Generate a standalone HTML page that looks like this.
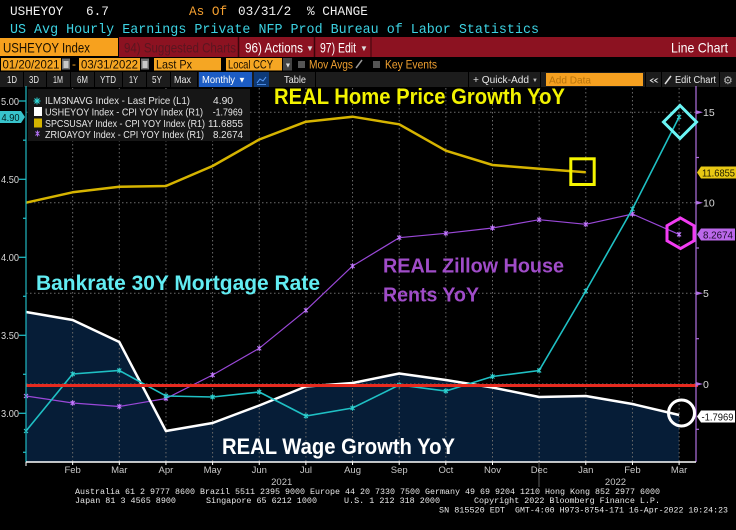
<!DOCTYPE html>
<html><head><meta charset="utf-8"><style>
html,body{margin:0;padding:0;background:#000;width:736px;height:530px;overflow:hidden}
svg{display:block}
.m{font-family:"Liberation Mono",monospace}
.s{font-family:"Liberation Sans",sans-serif}
</style></head><body>
<svg width="736" height="530" viewBox="0 0 736 530" xmlns="http://www.w3.org/2000/svg">
<rect x="0" y="0" width="736" height="530" fill="#000"/>
<!-- Row 1 -->
<g class="m" font-size="12.7" fill="#f0f0f0">
<text x="10" y="15">USHEYOY</text>
<text x="86" y="15">6.7</text>
<text x="189" y="15" fill="#f5a030">As Of</text>
<text x="238" y="15">03/31/2</text>
<text x="307" y="15">% CHANGE</text>
</g>
<!-- Row 2 -->
<text class="m" x="10" y="33" font-size="13.36" fill="#3dd3e3" textLength="529" lengthAdjust="spacingAndGlyphs">US Avg Hourly Earnings Private NFP Prod Bureau of Labor Statistics</text>
<!-- Row 3 -->
<rect x="0" y="38" width="118" height="18" fill="#f7a11e"/>
<rect x="119" y="37" width="617" height="20" fill="#8c1221"/>
<line x1="238.5" y1="37" x2="238.5" y2="57" stroke="#3a050b" stroke-width="1.5"/>
<line x1="314.5" y1="37" x2="314.5" y2="57" stroke="#3a050b" stroke-width="1.5"/>
<line x1="371" y1="37" x2="371" y2="57" stroke="#3a050b" stroke-width="1"/>
<g class="s">
<text x="3" y="52.5" font-size="14" fill="#1a1000" textLength="87" lengthAdjust="spacingAndGlyphs">USHEYOY Index</text>
<text x="124" y="52.5" font-size="14" fill="#5a1620" textLength="112" lengthAdjust="spacingAndGlyphs">94) Suggested Charts</text>
<text x="245" y="52.5" font-size="14" fill="#ffffff" textLength="58" lengthAdjust="spacingAndGlyphs">96) Actions</text>
<text x="306" y="51" font-size="8" fill="#dddddd">▼</text>
<text x="320" y="52.5" font-size="14" fill="#ffffff" textLength="36" lengthAdjust="spacingAndGlyphs">97) Edit</text>
<text x="360" y="51" font-size="8" fill="#dddddd">▼</text>
<text x="671" y="52.5" font-size="14" fill="#ffffff" textLength="57" lengthAdjust="spacingAndGlyphs">Line Chart</text>
</g>
<!-- Row 4 -->
<rect x="1" y="58" width="60" height="12.5" fill="#f5a623"/>
<rect x="62" y="58.5" width="8" height="11" fill="#6e6e6e"/>
<rect x="63.5" y="61" width="5" height="7" fill="#c8c8c8"/>
<rect x="79" y="58" width="61" height="12.5" fill="#f5a623"/>
<rect x="141" y="58.5" width="8" height="11" fill="#6e6e6e"/>
<rect x="142.5" y="61" width="5" height="7" fill="#c8c8c8"/>
<rect x="154" y="58" width="67" height="12.5" fill="#f5a623"/>
<rect x="226" y="58" width="56" height="12.5" fill="#f5a623"/>
<rect x="283" y="58" width="9" height="12.5" fill="#444"/>
<text x="284.5" y="67.5" font-size="7" fill="#ddd" class="s">▼</text>
<rect x="298" y="61" width="7" height="7" fill="#555"/>
<line x1="356" y1="68" x2="362" y2="60" stroke="#999" stroke-width="1.5"/>
<rect x="373" y="61" width="7" height="7" fill="#555"/>
<g class="s" font-size="12" fill="#1a0f00">
<text x="2.5" y="68.5" textLength="57" lengthAdjust="spacingAndGlyphs">01/20/2021</text>
<text x="72" y="68" fill="#f5a623">-</text>
<text x="81" y="68.5" textLength="57" lengthAdjust="spacingAndGlyphs">03/31/2022</text>
<text x="156" y="68.5" textLength="36" lengthAdjust="spacingAndGlyphs">Last Px</text>
<text x="228" y="68.5" textLength="45" lengthAdjust="spacingAndGlyphs">Local CCY</text>
<text x="309" y="68.5" fill="#f0a030" textLength="44" lengthAdjust="spacingAndGlyphs">Mov Avgs</text>
<text x="385" y="68.5" fill="#f0a030" textLength="52" lengthAdjust="spacingAndGlyphs">Key Events</text>
</g>
<!-- Row 5 -->
<rect x="0" y="72" width="736" height="15" fill="#1c1c1c"/>
<g fill="#000">
<rect x="23" y="72" width="1" height="15"/><rect x="46" y="72" width="1" height="15"/>
<rect x="70" y="72" width="1" height="15"/><rect x="94" y="72" width="1" height="15"/>
<rect x="122" y="72" width="1" height="15"/><rect x="146" y="72" width="1" height="15"/>
<rect x="170" y="72" width="1" height="15"/><rect x="197" y="72" width="1" height="15"/>
<rect x="315" y="72" width="1" height="15"/><rect x="468" y="72" width="1" height="15"/>
<rect x="540" y="72" width="1" height="15"/><rect x="645" y="72" width="1" height="15"/>
<rect x="661" y="72" width="1" height="15"/><rect x="719" y="72" width="1" height="15"/>
</g>
<rect x="199" y="72" width="53" height="15" fill="#1c5cc4"/>
<rect x="254" y="72" width="15" height="15" fill="#0e3a78"/>
<polyline points="257,83 260,79 263,81 266,77" fill="none" stroke="#5aa0ff" stroke-width="1"/>
<line x1="257" y1="84.5" x2="266" y2="84.5" stroke="#5aa0ff" stroke-width="0.8"/>
<rect x="546" y="73" width="97" height="13" fill="#f5a020"/>
<g class="s" font-size="10.5" fill="#e8e8e8">
<text x="7" y="83" textLength="10" lengthAdjust="spacingAndGlyphs">1D</text>
<text x="29" y="83" textLength="10" lengthAdjust="spacingAndGlyphs">3D</text>
<text x="53" y="83" textLength="10" lengthAdjust="spacingAndGlyphs">1M</text>
<text x="77" y="83" textLength="11" lengthAdjust="spacingAndGlyphs">6M</text>
<text x="100" y="83" textLength="16" lengthAdjust="spacingAndGlyphs">YTD</text>
<text x="129" y="83" textLength="9" lengthAdjust="spacingAndGlyphs">1Y</text>
<text x="152" y="83" textLength="10" lengthAdjust="spacingAndGlyphs">5Y</text>
<text x="174" y="83" textLength="17" lengthAdjust="spacingAndGlyphs">Max</text>
<text x="202" y="83" fill="#fff" textLength="33" lengthAdjust="spacingAndGlyphs">Monthly</text>
<text x="238" y="82.5" font-size="8" fill="#fff">▼</text>
<text x="284" y="83" textLength="22" lengthAdjust="spacingAndGlyphs">Table</text>
<text x="473" y="83" textLength="56" lengthAdjust="spacingAndGlyphs">+ Quick-Add</text>
<text x="532" y="82" font-size="6" fill="#bbb">▼</text>
<text x="549" y="83.5" fill="#b8740c" textLength="42" lengthAdjust="spacingAndGlyphs">Add Data</text>
<text x="649" y="83" textLength="10" lengthAdjust="spacingAndGlyphs">«</text>
<text x="675" y="83" textLength="41" lengthAdjust="spacingAndGlyphs">Edit Chart</text>
</g>
<line x1="665" y1="84" x2="671" y2="76" stroke="#ddd" stroke-width="1.5"/>
<text x="723" y="84" font-size="11" fill="#bbb" font-family="DejaVu Sans, sans-serif">⚙</text>

<!-- Chart: navy fill under white series -->
<polygon points="26,312 72.65,320 119.3,342 165.95,431 212.6,423 259.25,405.5 305.9,386.5 352.55,383 399.2,373.5 445.85,380 492.5,387.5 539.15,397 585.8,396 632.45,404 679.1,415 679.1,462 26,462" fill="#061d37"/>
<!-- gridlines -->
<g stroke="#6a6a6a" stroke-width="1" stroke-dasharray="1.5 2.5">
<line x1="72.65" y1="88" x2="72.65" y2="462"/><line x1="119.3" y1="88" x2="119.3" y2="462"/>
<line x1="165.95" y1="88" x2="165.95" y2="462"/><line x1="212.6" y1="88" x2="212.6" y2="462"/>
<line x1="259.25" y1="88" x2="259.25" y2="462"/><line x1="305.9" y1="88" x2="305.9" y2="462"/>
<line x1="352.55" y1="88" x2="352.55" y2="462"/><line x1="399.2" y1="88" x2="399.2" y2="462"/>
<line x1="445.85" y1="88" x2="445.85" y2="462"/><line x1="492.5" y1="88" x2="492.5" y2="462"/>
<line x1="539.15" y1="88" x2="539.15" y2="462"/><line x1="585.8" y1="88" x2="585.8" y2="462"/>
<line x1="632.45" y1="88" x2="632.45" y2="462"/><line x1="679.1" y1="88" x2="679.1" y2="462"/>
<line x1="26" y1="112.3" x2="696" y2="112.3"/><line x1="26" y1="202.7" x2="696" y2="202.7"/>
<line x1="26" y1="293.3" x2="696" y2="293.3"/><line x1="26" y1="384" x2="696" y2="384"/>
</g>

<!-- Legend -->
<rect x="28" y="89" width="222" height="52" fill="#161616"/>
<g class="s" font-size="10.5" fill="#e6e6e6">
<text x="45" y="104.2" textLength="145" lengthAdjust="spacingAndGlyphs">ILM3NAVG Index - Last Price (L1)</text>
<text x="213" y="104.2" textLength="20" lengthAdjust="spacingAndGlyphs">4.90</text>
<text x="45" y="115.5" textLength="158" lengthAdjust="spacingAndGlyphs">USHEYOY Index - CPI YOY Index (R1)</text>
<text x="212.7" y="115.5" textLength="30" lengthAdjust="spacingAndGlyphs">-1.7969</text>
<text x="45" y="126.8" textLength="160" lengthAdjust="spacingAndGlyphs">SPCSUSAY Index - CPI YOY Index (R1)</text>
<text x="208" y="126.8" textLength="35" lengthAdjust="spacingAndGlyphs">11.6855</text>
<text x="45" y="138.1" textLength="159" lengthAdjust="spacingAndGlyphs">ZRIOAYOY Index - CPI YOY Index (R1)</text>
<text x="213" y="138.1" textLength="30" lengthAdjust="spacingAndGlyphs">8.2674</text>
</g>
<path d="M34.5 98.5l5 5m0-5l-5 5m2.5-6v7m-3.5-3.5h7" stroke="#30d8d8" stroke-width="1"/>
<rect x="34" y="107" width="8" height="9" fill="#ffffff"/>
<rect x="34" y="118.5" width="8" height="9" fill="#d4b400"/>
<path d="M35.5 131.5l4 4m0-4l-4 4m2-5v6" stroke="#b070f0" stroke-width="1"/>

<!-- Annotations -->
<g class="s" font-weight="bold">
<text x="274" y="104" font-size="22" fill="#f2f200" textLength="291" lengthAdjust="spacingAndGlyphs">REAL Home Price Growth YoY</text>
<text x="36" y="290" font-size="21" fill="#62ecf2" textLength="284" lengthAdjust="spacingAndGlyphs">Bankrate 30Y Mortgage Rate</text>
<text x="383" y="272.7" font-size="20" fill="#a04cc8" textLength="181" lengthAdjust="spacingAndGlyphs">REAL Zillow House</text>
<text x="383" y="301.7" font-size="20" fill="#a04cc8" textLength="96" lengthAdjust="spacingAndGlyphs">Rents YoY</text>
<text x="222" y="454" font-size="22" fill="#ffffff" textLength="233" lengthAdjust="spacingAndGlyphs">REAL Wage Growth YoY</text>
</g>

<!-- Series -->
<polyline points="26,202.7 72.65,192.3 119.3,186.7 165.95,186 212.6,166 259.25,139.5 305.9,121.7 352.55,116.7 399.2,124.3 445.85,150.7 492.5,165 539.15,168.7 585.8,172.3" fill="none" stroke="#d6b400" stroke-width="2.5" stroke-linejoin="round"/>
<polyline points="26,396 72.65,403 119.3,406.5 165.95,398.5 212.6,375 259.25,348.3 305.9,310.3 352.55,266 399.2,237.7 445.85,233.3 492.5,228 539.15,219.7 585.8,224.3 632.45,214 679.1,234.4" fill="none" stroke="#9a48d8" stroke-width="1.2"/>
<path d="M24 394l4 4m0-4l-4 4m2-4.8v5.6M70.65 401l4 4m0-4l-4 4m2-4.8v5.6M117.3 404.5l4 4m0-4l-4 4m2-4.8v5.6M163.95 396.5l4 4m0-4l-4 4m2-4.8v5.6M210.6 373l4 4m0-4l-4 4m2-4.8v5.6M257.25 346.3l4 4m0-4l-4 4m2-4.8v5.6M303.9 308.3l4 4m0-4l-4 4m2-4.8v5.6M350.55 264l4 4m0-4l-4 4m2-4.8v5.6M397.2 235.7l4 4m0-4l-4 4m2-4.8v5.6M443.85 231.3l4 4m0-4l-4 4m2-4.8v5.6M490.5 226l4 4m0-4l-4 4m2-4.8v5.6M537.15 217.7l4 4m0-4l-4 4m2-4.8v5.6M583.8 222.3l4 4m0-4l-4 4m2-4.8v5.6M630.45 212l4 4m0-4l-4 4m2-4.8v5.6M677.1 232.4l4 4m0-4l-4 4m2-4.8v5.6" stroke="#c47cff" stroke-width="1" fill="none"/>
<polyline points="26,312 72.65,320 119.3,342 165.95,431 212.6,423 259.25,405.5 305.9,386.5 352.55,383 399.2,373.5 445.85,380 492.5,387.5 539.15,397 585.8,396 632.45,404 679.1,415" fill="none" stroke="#ffffff" stroke-width="2.5" stroke-linejoin="round"/>
<polyline points="26,431 72.65,374 119.3,370.5 165.95,396 212.6,397 259.25,392 305.9,416 352.55,408 399.2,385 445.85,391 492.5,376.5 539.15,370.5 585.8,291 632.45,209 679.1,117" fill="none" stroke="#1fc0c4" stroke-width="1.6"/>
<path d="M24 429l4 4m0-4l-4 4m2-4.8v5.6M70.65 372l4 4m0-4l-4 4m2-4.8v5.6M117.3 368.5l4 4m0-4l-4 4m2-4.8v5.6M163.95 394l4 4m0-4l-4 4m2-4.8v5.6M210.6 395l4 4m0-4l-4 4m2-4.8v5.6M257.25 390l4 4m0-4l-4 4m2-4.8v5.6M303.9 414l4 4m0-4l-4 4m2-4.8v5.6M350.55 406l4 4m0-4l-4 4m2-4.8v5.6M397.2 383l4 4m0-4l-4 4m2-4.8v5.6M443.85 389l4 4m0-4l-4 4m2-4.8v5.6M490.5 374.5l4 4m0-4l-4 4m2-4.8v5.6M537.15 368.5l4 4m0-4l-4 4m2-4.8v5.6M583.8 289l4 4m0-4l-4 4m2-4.8v5.6M630.45 207l4 4m0-4l-4 4m2-4.8v5.6M677.1 115l4 4m0-4l-4 4m2-4.8v5.6" stroke="#30d0d0" stroke-width="1" fill="none"/>
<!-- red zero line -->
<line x1="26" y1="385.5" x2="698" y2="385.5" stroke="#e62a1f" stroke-width="3"/>

<!-- Axes -->
<line x1="26" y1="86" x2="26" y2="462" stroke="#20b8c0" stroke-width="1.2"/>
<line x1="696" y1="86" x2="696" y2="462" stroke="#b070e0" stroke-width="1.2"/>
<line x1="26" y1="462" x2="696" y2="462" stroke="#ffffff" stroke-width="1.5"/>
<g stroke="#20b8c0" stroke-width="1.3">
<line x1="19" y1="101" x2="26" y2="101"/><line x1="19" y1="179.3" x2="26" y2="179.3"/>
<line x1="19" y1="257.3" x2="26" y2="257.3"/><line x1="19" y1="335.3" x2="26" y2="335.3"/>
<line x1="19" y1="413.3" x2="26" y2="413.3"/>
<line x1="23" y1="140.2" x2="26" y2="140.2"/><line x1="23" y1="218.3" x2="26" y2="218.3"/>
<line x1="23" y1="296.3" x2="26" y2="296.3"/><line x1="23" y1="374.3" x2="26" y2="374.3"/>
<line x1="23" y1="452.3" x2="26" y2="452.3"/>
</g>
<g class="s" font-size="10.5" fill="#d8d8d8">
<text x="1" y="104.8" textLength="18" lengthAdjust="spacingAndGlyphs">5.00</text>
<text x="1" y="183" textLength="18" lengthAdjust="spacingAndGlyphs">4.50</text>
<text x="1" y="261" textLength="18" lengthAdjust="spacingAndGlyphs">4.00</text>
<text x="1" y="339" textLength="18" lengthAdjust="spacingAndGlyphs">3.50</text>
<text x="1" y="417" textLength="18" lengthAdjust="spacingAndGlyphs">3.00</text>
</g>
<polygon points="0,111 21,111 25,117 21,123 0,123" fill="#38c4cc"/>
<text class="s" x="1.5" y="121" font-size="10" fill="#002020" textLength="18" lengthAdjust="spacingAndGlyphs">4.90</text>

<!-- right ticks -->
<g fill="#b070e0">
<polygon points="696,110.3 703,112.3 696,114.3"/><polygon points="696,200.7 703,202.7 696,204.7"/>
<polygon points="696,291.3 703,293.3 696,295.3"/><polygon points="696,382 703,384 696,386"/>
</g>
<g stroke="#b070e0" stroke-width="1.2">
<line x1="696" y1="157.5" x2="699" y2="157.5"/><line x1="696" y1="248" x2="699" y2="248"/>
<line x1="696" y1="338.7" x2="699" y2="338.7"/><line x1="696" y1="429.3" x2="699" y2="429.3"/>
</g>
<g class="s" font-size="10.5" fill="#d8d8d8">
<text x="703" y="116">15</text><text x="703" y="206.5">10</text>
<text x="703" y="297">5</text><text x="703" y="388">0</text>
</g>
<polygon points="697,172.5 701,166.5 736,166.5 736,178.5 701,178.5" fill="#e8c814"/>
<text class="s" x="702" y="176.5" font-size="10.5" fill="#1e1a00" textLength="33" lengthAdjust="spacingAndGlyphs">11.6855</text>
<polygon points="697,234.4 701,228.5 735,228.5 735,240.5 701,240.5" fill="#bb68ea"/>
<text class="s" x="703" y="238.5" font-size="10.5" fill="#1a0a2a" textLength="30" lengthAdjust="spacingAndGlyphs">8.2674</text>
<polygon points="697,416.5 701,410.5 735,410.5 735,422.5 701,422.5" fill="#ffffff"/>
<text class="s" x="701.5" y="420.5" font-size="10.5" fill="#101010" textLength="32" lengthAdjust="spacingAndGlyphs">-1.7969</text>

<!-- Highlight shapes -->
<rect x="570.8" y="158.8" width="23.4" height="25.7" fill="none" stroke="#f5f500" stroke-width="3"/>
<polygon points="680,105.5 696.5,122 680,138.5 663.5,122" fill="none" stroke="#6af5f5" stroke-width="3"/>
<polygon points="680.5,218 694,225.75 694,240.75 680.5,248.5 667,240.75 667,225.75" fill="none" stroke="#f23cf2" stroke-width="3"/>
<circle cx="681.5" cy="413" r="13" fill="none" stroke="#ffffff" stroke-width="3"/>

<!-- X axis ticks & labels -->
<g stroke="#ffffff" stroke-width="1">
<line x1="26" y1="462" x2="26" y2="466"/><line x1="72.65" y1="462" x2="72.65" y2="465"/>
<line x1="119.3" y1="462" x2="119.3" y2="465"/><line x1="165.95" y1="462" x2="165.95" y2="465"/>
<line x1="212.6" y1="462" x2="212.6" y2="465"/><line x1="259.25" y1="462" x2="259.25" y2="465"/>
<line x1="305.9" y1="462" x2="305.9" y2="465"/><line x1="352.55" y1="462" x2="352.55" y2="465"/>
<line x1="399.2" y1="462" x2="399.2" y2="465"/><line x1="445.85" y1="462" x2="445.85" y2="465"/>
<line x1="492.5" y1="462" x2="492.5" y2="465"/><line x1="585.8" y1="462" x2="585.8" y2="465"/>
<line x1="632.45" y1="462" x2="632.45" y2="465"/><line x1="679.1" y1="462" x2="679.1" y2="465"/>
</g>
<line x1="539" y1="462" x2="539" y2="487" stroke="#5a5a5a" stroke-width="1"/>
<g class="s" font-size="9.5" fill="#c8c8c8" text-anchor="middle">
<text x="72.65" y="473">Feb</text><text x="119.3" y="473">Mar</text><text x="165.95" y="473">Apr</text>
<text x="212.6" y="473">May</text><text x="259.25" y="473">Jun</text><text x="305.9" y="473">Jul</text>
<text x="352.55" y="473">Aug</text><text x="399.2" y="473">Sep</text><text x="445.85" y="473">Oct</text>
<text x="492.5" y="473">Nov</text><text x="539.15" y="473">Dec</text><text x="585.8" y="473">Jan</text>
<text x="632.45" y="473">Feb</text><text x="679.1" y="473">Mar</text>
<text x="281.7" y="485">2021</text><text x="615.5" y="485">2022</text>
</g>

<!-- Footer -->
<g class="m" font-size="8.4" fill="#e8e8e8">
<text x="75" y="494" textLength="585" lengthAdjust="spacingAndGlyphs">Australia 61 2 9777 8600 Brazil 5511 2395 9000 Europe 44 20 7330 7500 Germany 49 69 9204 1210 Hong Kong 852 2977 6000</text>
<text x="75" y="503" textLength="101" lengthAdjust="spacingAndGlyphs">Japan 81 3 4565 8900</text>
<text x="206" y="503" textLength="111" lengthAdjust="spacingAndGlyphs">Singapore 65 6212 1000</text>
<text x="344" y="503" textLength="96" lengthAdjust="spacingAndGlyphs">U.S. 1 212 318 2000</text>
<text x="474" y="503" textLength="186" lengthAdjust="spacingAndGlyphs">Copyright 2022 Bloomberg Finance L.P.</text>
<text x="439" y="512.5" textLength="66" lengthAdjust="spacingAndGlyphs">SN 815520 EDT</text>
<text x="515" y="512.5" textLength="213" lengthAdjust="spacingAndGlyphs">GMT-4:00 H973-8754-171 16-Apr-2022 10:24:23</text>
</g>
</svg>
</body></html>
